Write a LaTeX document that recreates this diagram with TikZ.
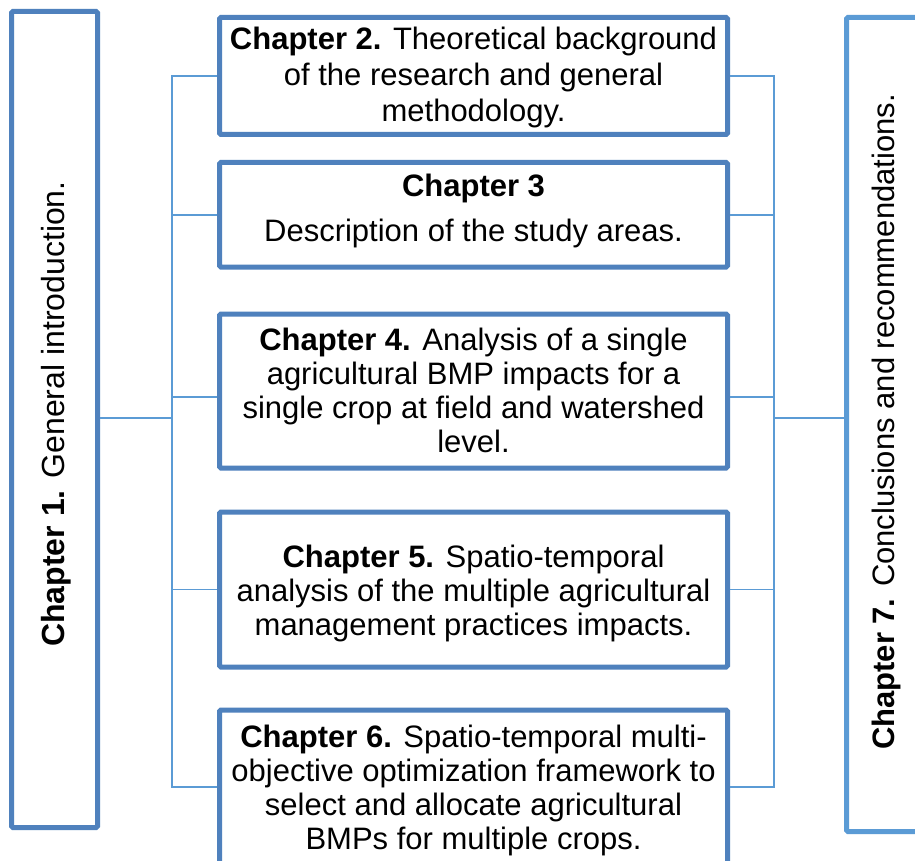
\documentclass[tikz,border=0pt]{standalone}
\usepackage{fontspec}
\setmainfont{Liberation Sans}
\definecolor{boxblue}{RGB}{79,129,189}
\definecolor{lineblue}{RGB}{91,155,213}

\begin{document}
\begin{tikzpicture}[x=1pt,y=-1pt,
  chap/.style={draw=boxblue, line width=5pt, rounded corners=1.5pt, inner sep=0pt, fill=white},
  side/.style={chap, draw=lineblue},
  txt/.style={align=center, font=\fontsize{31}{34}\selectfont, inner sep=0pt},
  conn/.style={draw=lineblue, line width=1.5pt}]

\useasboundingbox[fill=white] (0,0) rectangle (915,861);

% bus lines on both sides of the chapter column
\coordinate (bl) at (172,0);
\coordinate (br) at (774,0);

% outer chapters
\node[chap, minimum width=86pt, minimum height=816pt] (c1) at (54.5,419.5) {};
\node[side, minimum width=78.5pt, minimum height=814pt] (c7) at (885.75,424.5) {};

% middle chapters
\node[chap, minimum width=508pt, minimum height=117pt]   (c2) at (473.5,76) {};
\node[chap, minimum width=508pt, minimum height=104.5pt] (c3) at (473.5,214.75) {};
\node[chap, minimum width=508pt, minimum height=154pt]   (c4) at (473.5,391) {};
\node[chap, minimum width=508pt, minimum height=155pt]   (c5) at (473.5,589.5) {};
\node[chap, minimum width=508pt, minimum height=154pt]   (c6) at (473.5,787) {};

% connectors
\draw[conn] (c2.west) -- (c2.west -| bl) -- (c6.west -| bl) -- (c6.west);
\draw[conn] (c3.west -| bl) -- (c3.west);
\draw[conn] ([yshift=-6pt]c4.west -| bl) -- ([yshift=-6pt]c4.west);
\draw[conn] (c5.west -| bl) -- (c5.west);
\draw[conn] ([yshift=1.5pt]c1.east) -- ([yshift=1.5pt]c1.east -| bl);

\draw[conn] (c2.east) -- (c2.east -| br) -- (c6.east -| br) -- (c6.east);
\draw[conn] (c3.east) -- (c3.east -| br);
\draw[conn] ([yshift=-6pt]c4.east) -- ([yshift=-6pt]c4.east -| br);
\draw[conn] (c5.east) -- (c5.east -| br);
\draw[conn] ([yshift=6.5pt]c7.west) -- ([yshift=6.5pt]c7.west -| br);

% chapter texts
\node[txt, rotate=90, font=\fontsize{32}{34}\selectfont] (t1) at (56,414) {\textbf{Chapter 1.} General introduction.};
\node[txt, rotate=90] (t7) at (886,422) {\textbf{Chapter 7.} Conclusions and recommendations.};

\node[txt, font=\fontsize{31}{36}\selectfont] (t2) at (473.5,77) {\textbf{Chapter 2.} Theoretical background\\of the research and general\\methodology.};
\node[txt] (t3) at (473.5,211) {\textbf{Chapter 3}\\[11pt]Description of the study areas.};
\node[txt] (t4) at (473.5,390) {\textbf{Chapter 4.} Analysis of a single\\agricultural BMP impacts for a\\single crop at field and watershed\\level.};
\node[txt] (t5) at (473.5,593) {\textbf{Chapter 5.} Spatio-temporal\\analysis of the multiple agricultural\\management practices impacts.};
\node[txt] (t6) at (473.5,790) {\textbf{Chapter 6.} Spatio-temporal multi-\\objective optimization framework to\\select and allocate agricultural\\BMPs for multiple crops.};

\end{tikzpicture}
\end{document}
